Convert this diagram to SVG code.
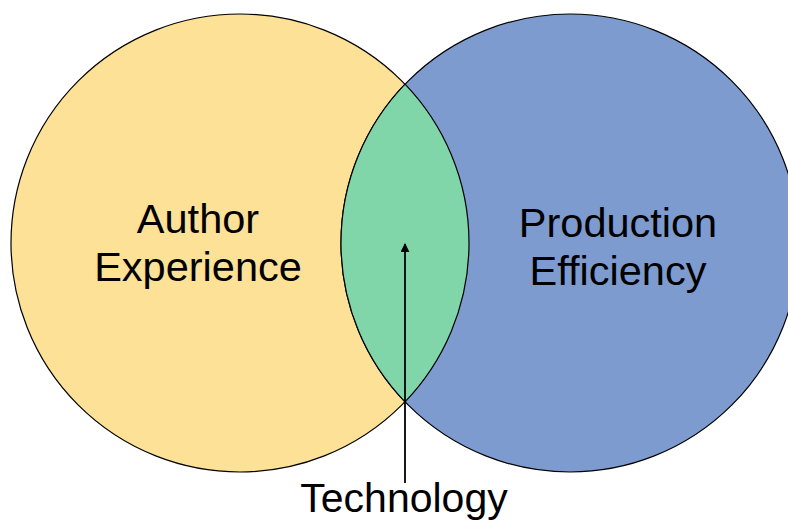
<svg xmlns="http://www.w3.org/2000/svg" width="788" height="524" viewBox="0 0 788 524">
  <style>
    .circ { stroke: #000; stroke-width: 1.2; }
    .lbl { font-family: "Liberation Sans", Arial, sans-serif; font-size: 41.5px; fill: #000; text-anchor: middle; }
    .conn { stroke: #000; stroke-width: 1.8; fill: none; }
  </style>
  <defs>
    <marker id="arrow" viewBox="0 0 10 10" refX="9" refY="5" markerWidth="5" markerHeight="5" markerUnits="strokeWidth" orient="auto">
      <path d="M0,0 L10,5 L0,10 Z" fill="#000"/>
    </marker>
  </defs>
  <rect width="788" height="524" fill="#ffffff"/>
  <g id="author-experience">
    <circle class="circ" cx="240" cy="243" r="229" fill="#FDE196"/>
  </g>
  <g id="production-efficiency">
    <circle class="circ" cx="570" cy="243" r="229" fill="#7E9BD0"/>
  </g>
  <g id="technology-overlap">
    <path class="circ" d="M405,84.2 A229,229 0 0 1 405,401.8 A229,229 0 0 1 405,84.2 Z" fill="#80D6A8"/>
  </g>
  <g id="labels">
    <text class="lbl" x="198" y="233">Author</text>
    <text class="lbl" x="198" y="281">Experience</text>
    <text class="lbl" x="618" y="236.5">Production</text>
    <text class="lbl" x="618" y="285">Efficiency</text>
  </g>
  <g id="connectors">
    <line class="conn" x1="405" y1="483" x2="405" y2="244" marker-end="url(#arrow)"/>
  </g>
  <g id="technology">
    <text class="lbl" x="404" y="512" style="font-size:41px">Technology</text>
  </g>
</svg>
